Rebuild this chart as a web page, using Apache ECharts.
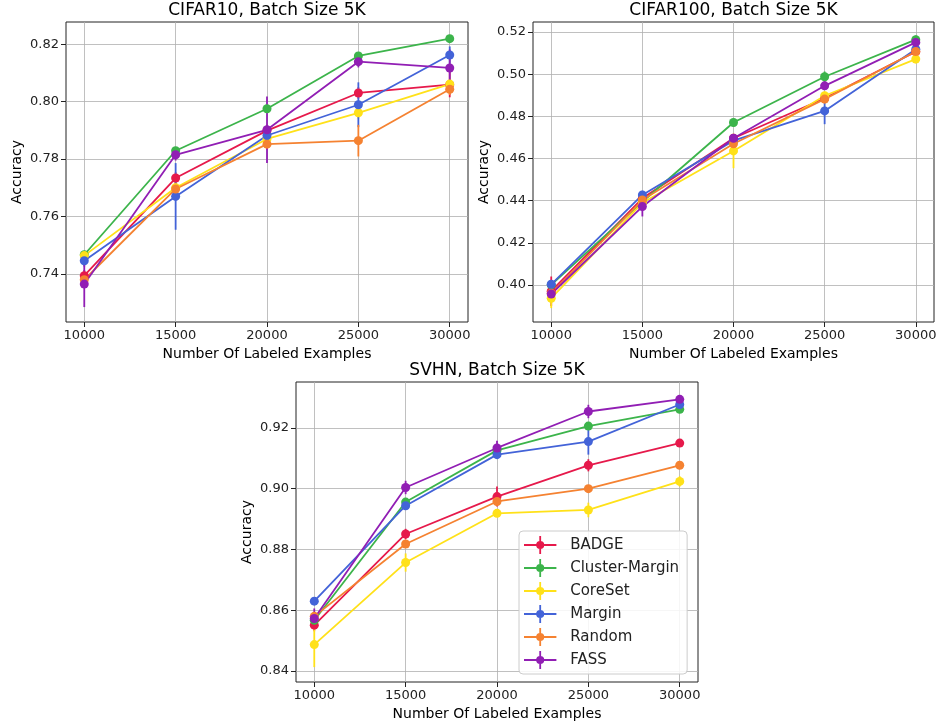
<!DOCTYPE html>
<html>
<head>
<meta charset="utf-8">
<script src="https://cdn.jsdelivr.net/npm/echarts@6/dist/echarts.min.js"></script>
<style>
html, body { margin: 0; padding: 0; background: #fff; }
#main { width: 940px; height: 725px; }
</style>
</head>
<body>
<div id="main"></div>
<script>
// number of labeled examples
var labeled = [10000, 15000, 20000, 25000, 30000];
var methods = ['BADGE', 'Cluster-Margin', 'CoreSet', 'Margin', 'Random', 'FASS'];
var colors = ['#e6194b', '#3cb44b', '#ffe119', '#4363d8', '#f58231', '#911eb4'];

// accuracy, rows in the order of methods
var cifar10Acc = [
    [0.7394, 0.7734, 0.7899, 0.8030, 0.8059],
    [0.7467, 0.7829, 0.7975, 0.8159, 0.8219],
    [0.7464, 0.7700, 0.7870, 0.7961, 0.8061],
    [0.7446, 0.7670, 0.7882, 0.7989, 0.8162],
    [0.7380, 0.7696, 0.7852, 0.7864, 0.8043],
    [0.7365, 0.7815, 0.7902, 0.8139, 0.8117]
];
var cifar10Err = [
    [0.002, 0.002, 0.002, 0.002, 0.0044],
    [0.001, 0.001, 0.001, 0.001, 0.001],
    [0.001, 0.002, 0.002, 0.002, 0.001],
    [0.002, 0.0116, 0.002, 0.0078, 0.003],
    [0.002, 0.002, 0.002, 0.0055, 0.002],
    [0.008, 0.002, 0.0116, 0.002, 0.0064]
];
var cifar100Acc = [
    [0.3970, 0.4411, 0.4696, 0.4886, 0.5107],
    [0.4000, 0.4395, 0.4771, 0.4988, 0.5164],
    [0.3937, 0.4390, 0.4636, 0.4898, 0.5072],
    [0.4003, 0.4427, 0.4685, 0.4826, 0.5119],
    [0.3960, 0.4403, 0.4670, 0.4882, 0.5108],
    [0.3957, 0.4372, 0.4696, 0.4945, 0.5151]
];
var cifar100Err = [
    [0.007, 0.002, 0.002, 0.002, 0.002],
    [0.002, 0.002, 0.002, 0.0025, 0.002],
    [0.0047, 0.002, 0.0082, 0.002, 0.002],
    [0.002, 0.002, 0.002, 0.0063, 0.002],
    [0.002, 0.002, 0.002, 0.002, 0.002],
    [0.002, 0.0047, 0.002, 0.002, 0.002]
];
var svhnAcc = [
    [0.8551, 0.8851, 0.8974, 0.9077, 0.9150],
    [0.8567, 0.8956, 0.9126, 0.9206, 0.9261],
    [0.8487, 0.8757, 0.8919, 0.8930, 0.9024],
    [0.8630, 0.8944, 0.9112, 0.9155, 0.9277],
    [0.8580, 0.8818, 0.8958, 0.9000, 0.9077],
    [0.8573, 0.9004, 0.9134, 0.9254, 0.9294]
];
var svhnErr = [
    [0.002, 0.0017, 0.0033, 0.002, 0.001],
    [0.001, 0.001, 0.001, 0.001, 0.001],
    [0.0074, 0.003, 0.001, 0.0024, 0.0017],
    [0.001, 0.001, 0.001, 0.0043, 0.001],
    [0.001, 0.001, 0.001, 0.001, 0.001],
    [0.0033, 0.0022, 0.0024, 0.0022, 0.001]
];

var titles = ['CIFAR10, Batch Size 5K', 'CIFAR100, Batch Size 5K', 'SVHN, Batch Size 5K'];
var xTicks = [10000, 15000, 20000, 25000, 30000];
var yTicks = [
    [0.74, 0.76, 0.78, 0.80, 0.82],
    [0.40, 0.42, 0.44, 0.46, 0.48, 0.50, 0.52],
    [0.84, 0.86, 0.88, 0.90, 0.92]
];
var yRange = [[0.7233, 0.8277], [0.3824, 0.5248], [0.8364, 0.9351]];

var FONT = 'DejaVu Sans';
var accs = [cifar10Acc, cifar100Acc, svhnAcc];
var errs = [cifar10Err, cifar100Err, svhnErr];
var grids = [
    {left: 66, top: 22, width: 402, height: 300},
    {left: 533, top: 22, width: 401, height: 300},
    {left: 296, top: 382, width: 402, height: 300}
];

var xAxes = [], yAxes = [], series = [], titleOpts = [];
for (var g = 0; g < 3; g++) {
    grids[g].show = true;
    grids[g].borderColor = '#222';
    grids[g].borderWidth = 1;
    titleOpts.push({
        text: titles[g], left: grids[g].left + grids[g].width / 2, top: g == 2 ? 362 : 2,
        textAlign: 'center', padding: 0,
        textStyle: {fontFamily: FONT, fontSize: 17, fontWeight: 'normal', color: '#000'}
    });
    xAxes.push({
        gridIndex: g, type: 'value', min: 9000, max: 31000,
        name: 'Number Of Labeled Examples', nameLocation: 'middle', nameGap: 25,
        nameTextStyle: {fontFamily: FONT, fontSize: 14, color: '#000'},
        axisLine: {show: false},
        axisTick: {show: true, length: 5, customValues: xTicks, lineStyle: {color: '#222'}},
        axisLabel: {customValues: xTicks, fontFamily: FONT, fontSize: 13, color: '#222', margin: 7,
            formatter: function (v) { return String(v); }},
        splitLine: {show: true, lineStyle: {color: '#b0b0b0', width: 0.8}}
    });
    yAxes.push({
        gridIndex: g, type: 'value', min: yRange[g][0], max: yRange[g][1],
        name: 'Accuracy', nameLocation: 'middle', nameGap: 42,
        nameTextStyle: {fontFamily: FONT, fontSize: 14, color: '#000'},
        axisLine: {show: false},
        axisTick: {show: true, length: 5, customValues: yTicks[g], lineStyle: {color: '#222'}},
        axisLabel: {customValues: yTicks[g], fontFamily: FONT, fontSize: 13, color: '#222', margin: 7,
            formatter: function (v) { return v.toFixed(2); }},
        splitLine: {show: true, lineStyle: {color: '#b0b0b0', width: 0.8}}
    });
    for (var m = 0; m < methods.length; m++) {
        var pts = [], bars = [];
        for (var k = 0; k < labeled.length; k++) {
            pts.push([labeled[k], accs[g][m][k]]);
            bars.push([labeled[k], accs[g][m][k], errs[g][m][k]]);
        }
        series.push({
            type: 'line', name: methods[m], xAxisIndex: g, yAxisIndex: g,
            data: pts, symbol: 'circle', symbolSize: 9, showSymbol: true,
            itemStyle: {color: colors[m]},
            lineStyle: {color: colors[m], width: 1.8},
            emphasis: {disabled: true}
        });
        series.push({
            type: 'custom', name: methods[m], xAxisIndex: g, yAxisIndex: g,
            data: bars, encode: {x: 0, y: 1},
            itemStyle: {color: colors[m]},
            renderItem: (function (col) {
                return function (params, api) {
                    var x = api.value(0), y = api.value(1), e = api.value(2);
                    var p1 = api.coord([x, y - e]);
                    var p2 = api.coord([x, y + e]);
                    return {
                        type: 'line',
                        shape: {x1: p1[0], y1: p1[1], x2: p2[0], y2: p2[1]},
                        style: {stroke: col, lineWidth: 1.8}
                    };
                };
            })(colors[m])
        });
    }
}

// errorbar-like legend glyph
var errIcon = 'path://M0,9 L36,9 L36,11 L0,11 Z M17,0 L19,0 L19,20 L17,20 Z ' +
    'M22.5,10 A4.5,4.5 0 1 1 13.5,10 A4.5,4.5 0 1 1 22.5,10 Z';

var chart = echarts.init(document.getElementById('main'));
chart.setOption({
    animation: false,
    backgroundColor: '#fff',
    title: titleOpts,
    grid: grids,
    xAxis: xAxes,
    yAxis: yAxes,
    legend: {
        data: methods.map(function (n) { return {name: n, icon: errIcon}; }),
        orient: 'vertical', left: 519, top: 531,
        itemWidth: 34, itemHeight: 18, itemGap: 5,
        padding: [5, 8, 5, 5],
        backgroundColor: 'rgba(255,255,255,0.85)',
        borderColor: '#cccccc', borderWidth: 1, borderRadius: 4,
        textStyle: {fontFamily: FONT, fontSize: 15, color: '#222', padding: [0, 0, 0, 8]}
    },
    series: series
});
</script>
</body>
</html>
